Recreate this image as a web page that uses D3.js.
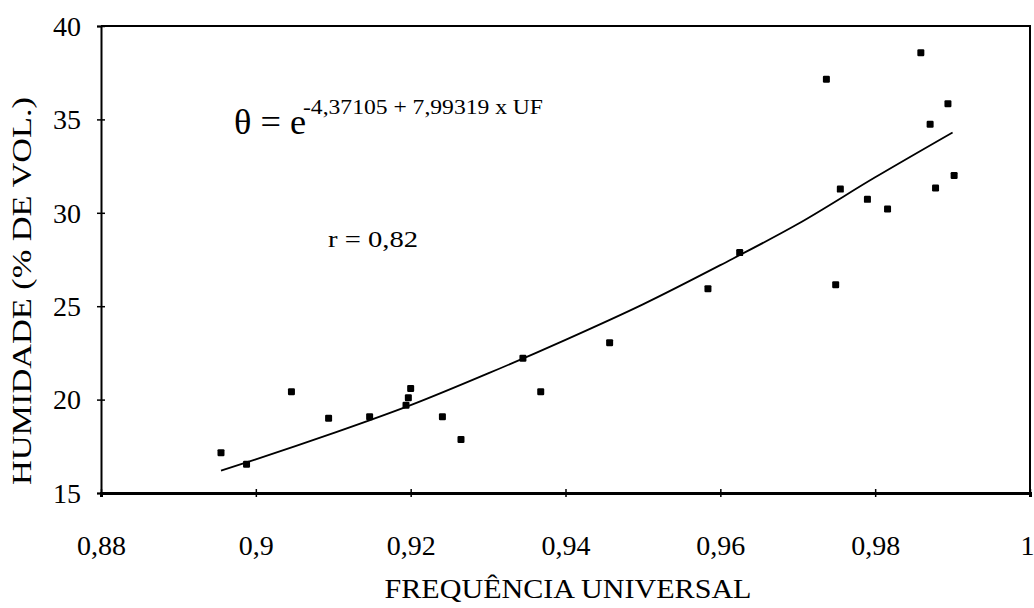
<!DOCTYPE html>
<html>
<head>
<meta charset="utf-8">
<script src="https://cdn.jsdelivr.net/npm/d3@7"></script>
<style>
  body { margin: 0; background: #fff; }
  text { font-family: "Liberation Serif", "DejaVu Serif", serif; fill: #000; }
</style>
</head>
<body>
<svg id="chart"></svg>
<script>
// measured points (frequência universal, humidade % vol.)
let uf = [0.8955, 0.8988, 0.9046, 0.9094, 0.9147, 0.9194, 0.9197, 0.9200, 0.9241, 0.9265,
          0.9345, 0.9368, 0.9457, 0.9584, 0.9625, 0.9737, 0.9749, 0.9755, 0.9790, 0.9816,
          0.9859, 0.9871, 0.9878, 0.9894, 0.9902];
let humidade = [17.16, 16.54, 20.42, 19.0, 19.08, 19.7, 20.1, 20.6, 19.08, 17.87,
                22.21, 20.42, 23.05, 25.94, 27.87, 37.15, 26.15, 31.27, 30.72, 30.2,
                38.57, 34.74, 31.33, 35.84, 32.0];

// fitted curve
let fitX = [0.8955, 0.90, 0.91, 0.92, 0.93, 0.94, 0.95, 0.96, 0.97, 0.98, 0.99];
let fitY = [16.2, 16.8, 18.2, 19.7, 21.4, 23.2, 25.1, 27.2, 29.4, 31.9, 34.3];

let xTicks = [0.88, 0.9, 0.92, 0.94, 0.96, 0.98, 1];
let yTicks = [15, 20, 25, 30, 35, 40];

let width = 1034, height = 608;
let padding = { top: 26, right: 4, bottom: 115, left: 101 };

let svg = d3.select("#chart")
            .attr("width", width)
            .attr("height", height);

let xScale = d3.scaleLinear()
                .domain([0.88, 1])
                .range([padding.left, width - padding.right]);
let yScale = d3.scaleLinear()
                .domain([15, 40])
                .range([height - padding.bottom, padding.top]);

let comma = v => String(v).replace(".", ",");

// frame (top and right)
svg.append("path")
    .attr("d", "M" + xScale(0.88) + "," + yScale(40) + "H" + xScale(1) + "V" + yScale(15))
    .attr("fill", "none")
    .attr("stroke", "#000")
    .attr("stroke-width", 2);

let xAxis = d3.axisBottom(xScale)
                .tickValues(xTicks)
                .tickFormat(comma)
                .tickSizeOuter(0)
                .tickSize(4);

let gx = svg.append("g")
    .attr("transform", "translate(0," + yScale(15) + ")")
    .call(xAxis);
gx.select(".domain").attr("stroke-width", 3);
gx.selectAll(".tick line").attr("y1", -4).attr("y2", 4).attr("stroke-width", 1.5);
gx.selectAll(".tick text")
    .attr("y", 62)
    .attr("dy", 0)
    .attr("dx", d => d === 1 ? -3 : 0)
    .style("font-size", "28px")
    .style("font-family", "Liberation Serif");

let yAxis = d3.axisLeft(yScale)
                .tickValues(yTicks)
                .tickSizeOuter(0)
                .tickSize(4);

let gy = svg.append("g")
    .attr("transform", "translate(" + xScale(0.88) + ",0)")
    .call(yAxis);
gy.select(".domain").attr("stroke-width", 2);
gy.selectAll(".tick line").attr("x1", -4).attr("x2", 4).attr("stroke-width", 1.5);
gy.selectAll(".tick text")
    .attr("x", -20)
    .attr("dy", "0.33em")
    .style("font-size", "28px")
    .style("font-family", "Liberation Serif");

// fitted line
let line = d3.line()
            .x(d => xScale(d[0]))
            .y(d => yScale(d[1]))
            .curve(d3.curveMonotoneX);

svg.append("path")
    .datum(d3.zip(fitX, fitY))
    .attr("d", line)
    .attr("fill", "none")
    .attr("stroke", "#000")
    .attr("stroke-width", 1.8);

// points
let s = 7;
svg.selectAll(".pt")
    .data(d3.zip(uf, humidade))
    .enter()
    .append("rect")
      .classed("pt", true)
      .attr("x", d => xScale(d[0]) - s/2)
      .attr("y", d => yScale(d[1]) - s/2)
      .attr("width", s)
      .attr("height", s)
      .attr("rx", 1.2)
      .attr("fill", "#000");

// equation
svg.append("text")
    .attr("x", 234)
    .attr("y", 134)
    .attr("textLength", 72)
    .attr("lengthAdjust", "spacingAndGlyphs")
    .style("font-size", "36px")
    .text("θ = e");

svg.append("text")
    .attr("x", 303)
    .attr("y", 114)
    .attr("textLength", 240)
    .attr("lengthAdjust", "spacingAndGlyphs")
    .style("font-size", "20px")
    .text("-4,37105 + 7,99319 x UF");

svg.append("text")
    .attr("x", 328)
    .attr("y", 247)
    .attr("textLength", 90)
    .attr("lengthAdjust", "spacingAndGlyphs")
    .style("font-size", "23px")
    .text("r = 0,82");

// axis titles
svg.append("text")
    .attr("x", 568)
    .attr("y", 598)
    .attr("text-anchor", "middle")
    .attr("textLength", 367)
    .attr("lengthAdjust", "spacingAndGlyphs")
    .style("font-size", "27px")
    .text("FREQUÊNCIA UNIVERSAL");

svg.append("text")
    .attr("transform", "translate(31,291) rotate(-90)")
    .attr("text-anchor", "middle")
    .attr("textLength", 388)
    .attr("lengthAdjust", "spacingAndGlyphs")
    .style("font-size", "27px")
    .text("HUMIDADE (% DE VOL.)");
</script>
</body>
</html>
